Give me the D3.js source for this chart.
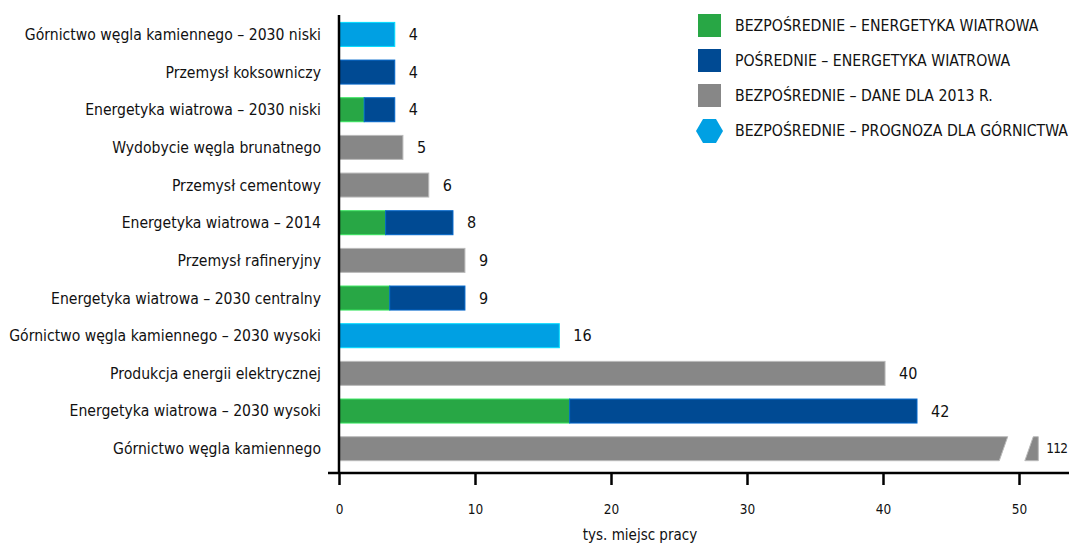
<!DOCTYPE html>
<html>
<head>
<meta charset="utf-8">
<style>
body { margin: 0; background: #fff; }
svg text { font-family: "DejaVu Sans Condensed", "Roboto", sans-serif; fill: #111; }
.cat { font-size: 15.6px; text-anchor: end; }
.val { font-size: 16px; }
.tick text { font-size: 13.5px; }
.legend text { font-size: 15.7px; }
</style>
<script src="https://cdn.jsdelivr.net/npm/d3@7"></script>
</head>
<body>
<svg width="1069" height="543"></svg>
<script>
// categories, top to bottom
var categories = [
  "Górnictwo węgla kamiennego – 2030 niski",
  "Przemysł koksowniczy",
  "Energetyka wiatrowa – 2030 niski",
  "Wydobycie węgla brunatnego",
  "Przemysł cementowy",
  "Energetyka wiatrowa – 2014",
  "Przemysł rafineryjny",
  "Energetyka wiatrowa – 2030 centralny",
  "Górnictwo węgla kamiennego – 2030 wysoki",
  "Produkcja energii elektrycznej",
  "Energetyka wiatrowa – 2030 wysoki",
  "Górnictwo węgla kamiennego"
];
// tys. miejsc pracy per series
var bezposrednieWiatr = [0, 0, 1.85, 0, 0, 3.43, 0, 3.73, 0, 0, 16.96, 0];
var posrednieWiatr    = [0, 4.1, 2.25, 0, 0, 4.95, 0, 5.53, 0, 0, 25.54, 0];
var dane2013          = [0, 0, 0, 4.7, 6.6, 0, 9.26, 0, 0, 40.15, 0, 112];
var prognozaGornictwo = [4.1, 0, 0, 0, 0, 0, 0, 0, 16.2, 0, 0, 0];
var valueLabels = ["4", "4", "4", "5", "6", "8", "9", "9", "16", "40", "42", "112"];
var ticks = [0, 10, 20, 30, 40, 50];

var seriesNames = [
  "BEZPOŚREDNIE – ENERGETYKA WIATROWA",
  "POŚREDNIE – ENERGETYKA WIATROWA",
  "BEZPOŚREDNIE – DANE DLA 2013 R.",
  "BEZPOŚREDNIE – PROGNOZA DLA GÓRNICTWA"
];
var colors = ["#28a745", "#004a93", "#878787", "#00a0e3"];
var seriesData = [bezposrednieWiatr, posrednieWiatr, dane2013, prognozaGornictwo];

var svg = d3.select("svg");
var x = d3.scaleLinear().domain([0, 50]).range([339, 1019]);
var y = d3.scalePoint().domain(categories).range([34.4, 448.7]);
var barH = 24;
var axisY = 473;
// axis is broken for values past this
var breakAt = 48.86, gapEnd = 50.74, brokenEnd = 51.42, slant = 0.31;

// bars
categories.forEach(function(c, i) {
  var start = 0;
  seriesData.forEach(function(s, k) {
    var v = s[i];
    if (!v) return;
    var fill = colors[k];
    var edge = d3.color(fill).brighter(0.9).formatHex();
    var yTop = y(c) - barH / 2, yBot = y(c) + barH / 2;
    if (start + v > 50) {
      svg.append("path")
        .attr("d", d3.line()([[x(start), yTop], [x(breakAt + slant), yTop], [x(breakAt - slant), yBot], [x(start), yBot]]) + "Z")
        .attr("fill", fill).attr("stroke", edge).attr("stroke-width", 1);
      svg.append("path")
        .attr("d", d3.line()([[x(gapEnd + slant), yTop], [x(brokenEnd), yTop], [x(brokenEnd), yBot], [x(gapEnd - slant), yBot]]) + "Z")
        .attr("fill", fill).attr("stroke", edge).attr("stroke-width", 1);
    } else {
      svg.append("rect")
        .attr("x", x(start)).attr("y", yTop)
        .attr("width", x(start + v) - x(start)).attr("height", barH)
        .attr("fill", fill).attr("stroke", edge).attr("stroke-width", 1);
    }
    start += v;
  });
  var total = d3.sum(seriesData, function(s) { return s[i]; });
  svg.append("text").attr("class", "val")
    .attr("x", total > 50 ? x(brokenEnd) + 8 : x(total) + 14)
    .attr("y", y(c)).attr("dy", "0.35em")
    .style("font-size", total > 50 ? "13.5px" : null)
    .style("letter-spacing", total > 50 ? "-0.8px" : null)
    .text(valueLabels[i]);
});

// category labels
svg.selectAll(".cat").data(categories).enter().append("text")
  .attr("class", "cat")
  .attr("x", 321).attr("y", function(d) { return y(d); }).attr("dy", "0.35em")
  .text(function(d) { return d; });

// axes
var xAxis = svg.append("g").attr("transform", "translate(0," + axisY + ")")
  .call(d3.axisBottom(x).tickValues(ticks).tickSize(12).tickSizeOuter(0).tickPadding(19));
xAxis.select(".domain").remove();
xAxis.selectAll(".tick line").attr("stroke", "#000").attr("stroke-width", 2.5);
xAxis.selectAll(".tick text").attr("fill", "#111");
svg.append("line").attr("x1", 328).attr("x2", 1069).attr("y1", axisY).attr("y2", axisY)
  .attr("stroke", "#000").attr("stroke-width", 2.5);
svg.append("line").attr("x1", x(0)).attr("x2", x(0)).attr("y1", 15).attr("y2", axisY)
  .attr("stroke", "#000").attr("stroke-width", 2.5);
svg.append("text").attr("x", 640).attr("y", 540).attr("text-anchor", "middle")
  .style("font-size", "15px").text("tys. miejsc pracy");

// legend
var legend = svg.append("g").attr("class", "legend");
seriesNames.forEach(function(name, k) {
  var ly = 26 + k * 35;
  if (k === 3) {
    legend.append("path")
      .attr("d", d3.line()([[696, ly], [703, ly - 12], [716, ly - 12], [723, ly], [716, ly + 12], [703, ly + 12]]) + "Z")
      .attr("fill", colors[k]);
  } else {
    legend.append("rect").attr("x", 698).attr("y", ly - 12).attr("width", 23).attr("height", 23)
      .attr("fill", colors[k]);
  }
  legend.append("text").attr("x", 735).attr("y", ly).attr("dy", "0.35em").text(name);
});
</script>
</body>
</html>
